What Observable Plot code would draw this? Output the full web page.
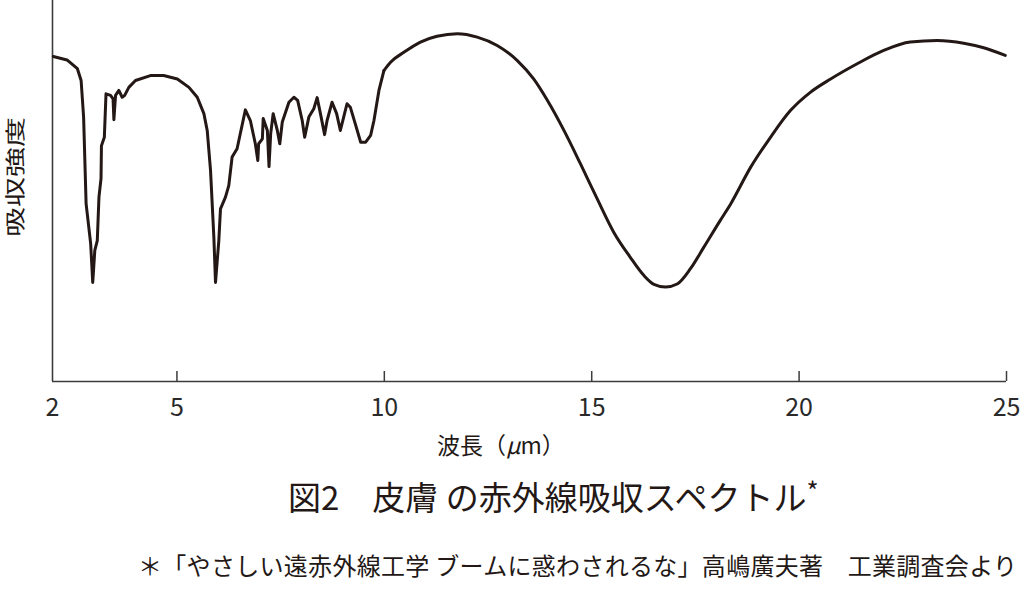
<!DOCTYPE html>
<html>
<head>
<meta charset="utf-8">
<script src="https://cdn.jsdelivr.net/npm/d3@7"></script>
<script src="https://cdn.jsdelivr.net/npm/@observablehq/plot@0.6"></script>
<style>
  html, body { margin: 0; padding: 0; background: #fff; }
  #wrap { position: relative; width: 1024px; height: 596px; font-family: "Noto Sans CJK JP", "Noto Sans", sans-serif; color: #231815; }
  .lbl { position: absolute; white-space: nowrap; }
</style>
</head>
<body>
<div id="wrap">
  <div id="chart"></div>
  <div class="lbl" id="ylabel" style="left:15px; top:177px; font-size:20px; line-height:22px; transform: translate(-50%,-50%) rotate(-90deg) scale(1.5,1);">吸収強度</div>
  <div class="lbl" id="xlabel" style="left:437px; top:430px; font-size:23px; line-height:28px;">波長（<i>μ</i>m）</div>
  <div class="lbl" id="title" style="left:288px; top:470px; font-size:33px; line-height:40px;">図2　皮膚 の赤外線吸収スペクトル<span style="font-size:26px; vertical-align: 9px;">*</span></div>
  <div class="lbl" id="note" style="left:138px; top:550px; font-size:24px; line-height:30px; letter-spacing:0.3px;">＊「やさしい遠赤外線工学 ブームに惑わされるな」高嶋廣夫著　工業調査会より</div>
</div>
<script>
// Wavelength (μm)
const wavelength = [
  2.02, 2.35, 2.60, 2.69, 2.75, 2.81, 2.92, 2.97, 3.02, 3.08, 3.12, 3.17, 3.18, 3.25, 3.29,
  3.40, 3.46, 3.48, 3.52, 3.60, 3.68, 3.74, 3.84, 4.00, 4.36, 4.68, 5.01, 5.29, 5.49, 5.65,
  5.73, 5.81, 5.89, 5.93, 6.01, 6.05, 6.17, 6.25, 6.33, 6.45, 6.65, 6.77, 6.89, 6.95, 6.97,
  7.06, 7.08, 7.18, 7.22, 7.26, 7.32, 7.42, 7.48, 7.54, 7.70, 7.82, 7.91, 8.02, 8.08, 8.18,
  8.30, 8.38, 8.46, 8.56, 8.62, 8.74, 8.85, 8.94, 9.02, 9.10, 9.18, 9.30, 9.43, 9.55, 9.67,
  9.75, 9.87, 9.99, 10.15, 10.47, 10.87, 11.27, 11.76, 12.24, 12.72, 13.20, 13.60, 13.93, 14.33,
  14.73, 15.13, 15.53, 15.93, 16.26, 16.50, 16.78, 17.06, 17.38, 17.70, 18.10, 18.35, 18.83,
  19.31, 19.79, 20.27, 20.76, 21.40, 22.04, 22.68, 23.33, 23.97, 24.45, 24.97
];
// Absorption intensity (arbitrary units, 0–100)
const absorption = [
  85.3, 84.4, 82.1, 79.0, 69.4, 46.7, 36.2, 26.0, 34.4, 37.0, 48.4, 53.3, 61.9, 64.1, 75.5,
  75.1, 74.2, 68.7, 75.1, 76.4, 74.6, 75.1, 77.2, 79.0, 80.3, 80.3, 79.4, 77.2, 74.6, 70.3,
  65.9, 55.4, 37.9, 26.0, 37.0, 45.3, 48.4, 51.4, 58.9, 61.1, 71.3, 68.5, 62.4, 58.0, 62.4,
  63.7, 69.0, 65.9, 56.4, 65.0, 70.3, 65.9, 62.4, 68.1, 73.3, 74.6, 73.8, 68.5, 64.1, 69.4,
  71.6, 74.5, 70.3, 64.8, 68.5, 73.3, 70.3, 65.9, 69.4, 72.9, 72.0, 67.6, 62.8, 62.8, 64.6,
  68.5, 76.4, 81.6, 83.8, 86.4, 89.1, 90.6, 91.3, 90.4, 88.2, 84.3, 79.4, 73.8, 65.9,
  57.1, 48.0, 39.2, 32.6, 27.8, 25.5, 24.8, 25.6, 29.6, 35.2, 42.3, 46.6, 56.2,
  64.1, 71.1, 75.9, 79.4, 83.4, 86.9, 89.1, 89.5, 88.8, 87.6, 85.6
];
const xTickLabels = [2, 5, 10, 15, 20, 25];
const xTickMarks = [5, 10, 15, 20, 25];

const data = wavelength.map((w, i) => ({w, a: absorption[i]}));
// jagged fingerprint region drawn with straight segments, broad bands smoothed
const smoothFrom = 9.99;
const jagged = data.filter(d => d.w <= smoothFrom);
const broad = data.filter(d => d.w >= smoothFrom);

const ink = "#231815";
const axisInk = "#3c3c3c";
const H = 425, MB = 44, MT = 0;
const tickLen = 10;

const lineStyle = {x: "w", y: "a", stroke: ink, strokeWidth: 3, strokeLinejoin: "round", strokeLinecap: "round"};

const chart = Plot.plot({
  width: 1024,
  height: H,
  marginLeft: 52,
  marginRight: 18,
  marginTop: MT,
  marginBottom: MB,
  style: {fontFamily: '"Noto Sans CJK JP", "Noto Sans", sans-serif', fontSize: "25px", color: ink, background: "#fff"},
  x: {domain: [2, 25]},
  y: {domain: [0, 100]},
  marks: [
    Plot.axisX(xTickLabels, {tickSize: 0, tickPadding: 17, label: null, fontSize: 25, fill: "#2a2a2a"}),
    Plot.axisY({ticks: [], label: null}),
    Plot.tickX(xTickMarks, {x: d => d, stroke: axisInk, strokeWidth: 1.5, insetTop: H - MB - MT - tickLen}),
    Plot.ruleY([0], {stroke: axisInk, strokeWidth: 1.6}),
    Plot.ruleX([2], {stroke: axisInk, strokeWidth: 1.6}),
    Plot.line(jagged, {...lineStyle, curve: "linear"}),
    Plot.line(broad, {...lineStyle, curve: "monotone-x"})
  ]
});
document.getElementById("chart").appendChild(chart);
</script>
</body>
</html>
